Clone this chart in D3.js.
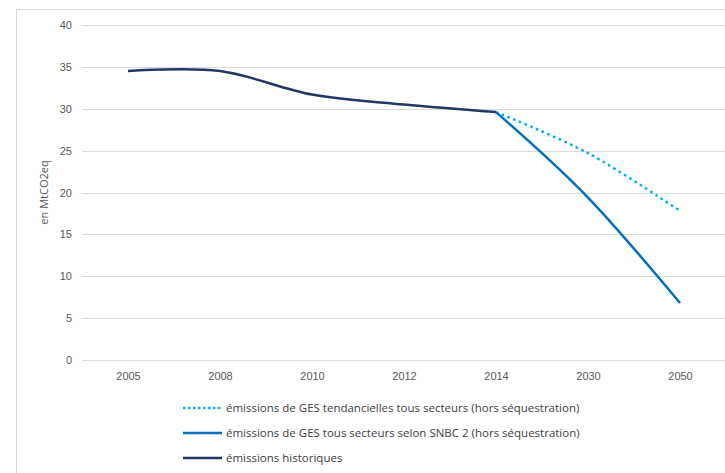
<!DOCTYPE html>
<html>
<head>
<meta charset="utf-8">
<script src="https://cdn.jsdelivr.net/npm/d3@7"></script>
<style>
  html, body { margin: 0; padding: 0; background: #fff; overflow: hidden; }
  svg { display: block; font-family: "Open Sans", "Noto Sans", sans-serif; }
</style>
</head>
<body>
<svg id="chart" width="725" height="473"></svg>
<script>
// Émissions de GES (MtCO2eq) par année
const years = ["2005", "2008", "2010", "2012", "2014", "2030", "2050"];
const historiques = [34.5, 34.5, 31.7, 30.5, 29.6, null, null];
const snbc2 = [null, null, null, null, 29.6, 19.4, 6.8];
const tendancielles = [null, null, null, null, 29.6, 24.7, 17.8];
const yTicks = [0, 5, 10, 15, 20, 25, 30, 35, 40];
const legendLabels = [
  "émissions de GES tendancielles tous secteurs (hors séquestration)",
  "émissions de GES tous secteurs selon SNBC 2 (hors séquestration)",
  "émissions historiques"
];

const svg = d3.select("#chart");

// cadre du graphique
svg.append("rect")
  .attr("x", 16.5).attr("y", 9.5)
  .attr("width", 760).attr("height", 500)
  .attr("fill", "#fff").attr("stroke", "#d9d9d9").attr("stroke-width", 1);

const plot = { left: 82, right: 726, top: 25, bottom: 360 };

const x = d3.scalePoint().domain(years).range([plot.left, plot.right]).padding(0.5);
const y = d3.scaleLinear().domain([0, 40]).range([plot.bottom, plot.top]);

// grille horizontale
svg.append("g")
  .selectAll("line")
  .data(yTicks)
  .join("line")
  .attr("x1", plot.left).attr("x2", plot.right)
  .attr("y1", d => Math.round(y(d)) + 0.5).attr("y2", d => Math.round(y(d)) + 0.5)
  .attr("stroke", "#d9d9d9").attr("stroke-width", 1);

// axe Y
const yAxis = svg.append("g")
  .attr("transform", `translate(${plot.left},0)`)
  .call(d3.axisLeft(y).tickValues(yTicks).tickSize(0).tickPadding(10));
yAxis.select(".domain").remove();
yAxis.selectAll("text").attr("fill", "#595959").attr("font-size", 11);

// axe X
const xAxis = svg.append("g")
  .attr("transform", `translate(0,${plot.bottom})`)
  .call(d3.axisBottom(x).tickSize(0).tickPadding(12));
xAxis.select(".domain").remove();
xAxis.selectAll("text").attr("fill", "#595959").attr("font-size", 11);

// titre de l'axe Y
svg.append("text")
  .attr("transform", `translate(48,${(plot.top + plot.bottom) / 2}) rotate(-90)`)
  .attr("text-anchor", "middle")
  .attr("fill", "#595959").attr("font-size", 11)
  .text("en MtCO2eq");

const line = d3.line()
  .defined(d => d.v !== null)
  .x(d => x(d.year))
  .y(d => y(d.v))
  .curve(d3.curveCatmullRom.alpha(0));

const toPoints = vals => years.map((year, i) => ({ year, v: vals[i] }));

const series = [
  { vals: tendancielles, color: "#00b0f0", dash: "2.6,3.6" },
  { vals: snbc2, color: "#0070c0", dash: null },
  { vals: historiques, color: "#1f3864", dash: null }
];

svg.append("g")
  .selectAll("path")
  .data(series)
  .join("path")
  .attr("d", s => line(toPoints(s.vals)))
  .attr("fill", "none")
  .attr("stroke", s => s.color)
  .attr("stroke-width", 2.5)
  .attr("stroke-dasharray", s => s.dash)
  .attr("stroke-linejoin", "round");

// légende
const legend = svg.append("g");
const legendY = [408, 433, 458];
series.forEach((s, i) => {
  legend.append("line")
    .attr("x1", 183).attr("x2", 222)
    .attr("y1", legendY[i]).attr("y2", legendY[i])
    .attr("stroke", s.color).attr("stroke-width", 2.5)
    .attr("stroke-dasharray", s.dash ? "2.4,2.6" : null);
  legend.append("text")
    .attr("x", 226).attr("y", legendY[i])
    .attr("dy", "0.35em")
    .attr("fill", "#404040").attr("font-size", 11.5)
    .text(legendLabels[i]);
});
</script>
</body>
</html>
